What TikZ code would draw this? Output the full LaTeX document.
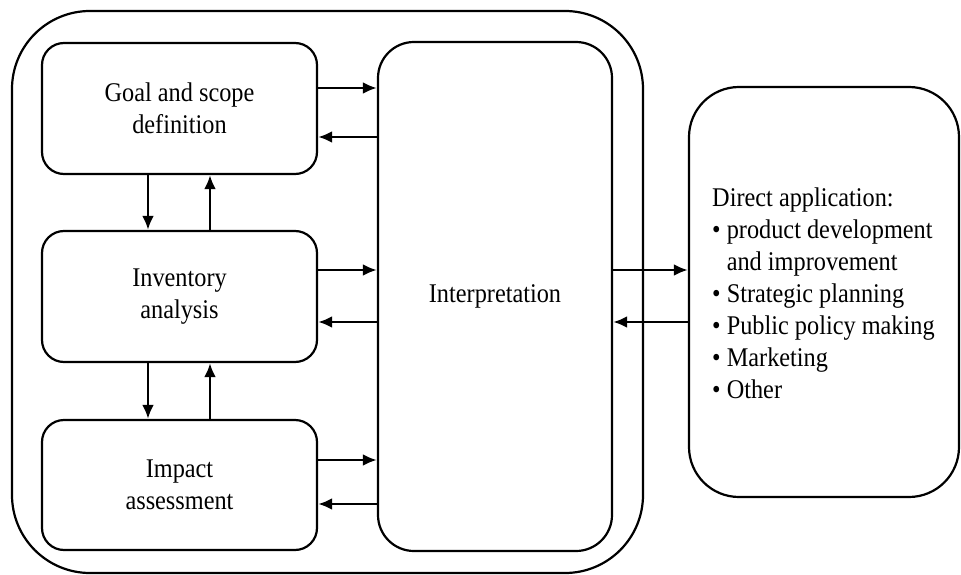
\documentclass[tikz,border=0pt]{standalone}
\usepackage{fontspec}
\setmainfont{Liberation Serif}[FakeStretch=0.9]
\usetikzlibrary{arrows.meta}
\begin{document}
\begin{tikzpicture}[x=1pt,y=-1pt,
  box/.style={draw, line width=2.2pt, rounded corners=22pt, align=center, inner sep=0pt,
    font=\fontsize{27}{32}\selectfont},
  arr/.style={line width=2.8pt, -{Latex[length=14pt,width=12pt]}}]
\useasboundingbox (0,0) rectangle (961,575);
% outer frame
\draw[line width=2.2pt, rounded corners=78pt] (12,11) rectangle (643,573);
% nodes
\node[box, minimum width=275pt, minimum height=131pt] (goal) at (179.5,108.5) {Goal and scope\\definition};
\node[box, minimum width=275pt, minimum height=131pt] (inv) at (179.5,296.5) {Inventory\\analysis};
\node[box, minimum width=275pt, minimum height=130pt] (imp) at (179.5,485) {Impact\\assessment};
\node[box, rounded corners=36pt, minimum width=234pt, minimum height=509pt] (interp) at (495,296.5) {Interpretation};
\node[box, rounded corners=50pt, minimum width=270pt, minimum height=410pt] (direct) at (824,292) {};
\node[anchor=base west, inner sep=0pt, font=\fontsize{27}{32}\selectfont] (dtext) at (712,206)
  {\begin{tabular}[t]{@{}l@{}}Direct application:\\
   • product development\\
   \phantom{• }and improvement\\
   • Strategic planning\\
   • Public policy making\\
   • Marketing\\
   • Other\end{tabular}};
% horizontal arrows to/from interpretation
\draw[arr] (goal.east |- 0,88) -- (interp.west |- 0,88);
\draw[arr] (interp.west |- 0,137) -- (goal.east |- 0,137);
\draw[arr] (inv.east |- 0,270) -- (interp.west |- 0,270);
\draw[arr] (interp.west |- 0,322) -- (inv.east |- 0,322);
\draw[arr] (imp.east |- 0,460) -- (interp.west |- 0,460);
\draw[arr] (interp.west |- 0,504) -- (imp.east |- 0,504);
% vertical arrows
\draw[arr] (goal.south -| 148,0) -- (inv.north -| 148,0);
\draw[arr] (inv.north -| 210,0) -- (goal.south -| 210,0);
\draw[arr] (inv.south -| 148,0) -- (imp.north -| 148,0);
\draw[arr] (imp.north -| 210,0) -- (inv.south -| 210,0);
% interpretation <-> direct application
\draw[arr] (interp.east |- 0,270) -- (direct.west |- 0,270);
\draw[arr] (direct.west |- 0,322) -- (interp.east |- 0,322);
\end{tikzpicture}
\end{document}
